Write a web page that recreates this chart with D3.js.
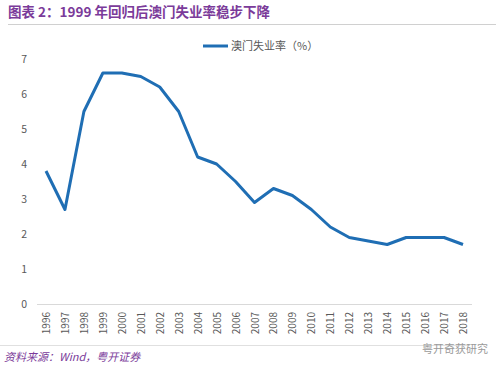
<!DOCTYPE html>
<html><head><meta charset="utf-8">
<script src="https://cdn.jsdelivr.net/npm/d3@7"></script>
<style>body{margin:0;background:#fff;}svg{display:block;}</style>
</head><body>
<script>
const years = ["1996","1997","1998","1999","2000","2001","2002","2003","2004","2005","2006","2007","2008","2009","2010","2011","2012","2013","2014","2015","2016","2017","2018"];
const rates = [3.8,2.7,5.5,6.6,6.6,6.5,6.2,5.5,4.2,4.0,3.5,2.9,3.3,3.1,2.7,2.2,1.9,1.8,1.7,1.9,1.9,1.9,1.7];
const yTicks = [0,1,2,3,4,5,6,7];
const seriesName = "澳门失业率（%）";
const titleText = "图表 2：1999 年回归后澳门失业率稳步下降";
const sourceText = "资料来源：Wind，粤开证券";
const watermark = "粤开奇获研究";

const W=500,H=370;
const svg=d3.select("body").append("svg").attr("width",W).attr("height",H);
const font="'Noto Sans CJK SC','Noto Sans',sans-serif";
const purple="#7B3B9A";

svg.append("text").attr("x",8).attr("y",17).attr("font-family",font).attr("font-size",13.5)
  .attr("font-weight","bold").attr("fill",purple).text(titleText);
svg.append("line").attr("x1",8).attr("x2",496).attr("y1",24.5).attr("y2",24.5).attr("stroke","#d0d0d0");

const x=d3.scalePoint().domain(years).range([46,463]);
const y=d3.scaleLinear().domain([0,7]).range([304,59]);

const ya=svg.append("g").attr("transform","translate(27,0)")
  .call(d3.axisLeft(y).tickValues(yTicks).tickFormat(d3.format("d")).tickSize(0).tickPadding(0));
ya.select(".domain").remove();
ya.selectAll("text").attr("font-family",font).attr("font-size",10.5).attr("fill","#595959");

svg.append("line").attr("x1",37).attr("x2",472).attr("y1",304.5).attr("y2",304.5).attr("stroke","#d9d9d9");

const xa=svg.append("g").attr("transform","translate(0,304)")
  .call(d3.axisBottom(x).tickSize(0).tickPadding(0));
xa.select(".domain").remove();
xa.selectAll("text").attr("font-family",font).attr("font-size",10).attr("fill","#595959")
  .attr("transform","rotate(-90)").attr("text-anchor","end").attr("dy","0.35em").attr("x",-8).attr("y",0);

const line=d3.line().x((d,i)=>x(years[i])).y(d=>y(d));
svg.append("path").datum(rates).attr("d",line).attr("fill","none")
  .attr("stroke","#1F6EB4").attr("stroke-width",3).attr("stroke-linejoin","round");

svg.append("line").attr("x1",203).attr("x2",228).attr("y1",46).attr("y2",46).attr("stroke","#1F6EB4").attr("stroke-width",3);
svg.append("text").attr("x",231).attr("y",50).attr("font-family",font).attr("font-size",11).attr("fill","#595959").text(seriesName);

svg.append("line").attr("x1",0).attr("x2",470).attr("y1",345.5).attr("y2",345.5).attr("stroke","#e0e0e0");
svg.append("text").attr("x",4).attr("y",361).attr("font-family",font).attr("font-size",11).attr("font-style","italic")
  .attr("fill",purple).text(sourceText);
svg.append("text").attr("x",488).attr("y",353).attr("text-anchor","end").attr("font-family",font).attr("font-size",11)
  .attr("fill","#9a9a9a").text(watermark);
</script>
</body></html>
